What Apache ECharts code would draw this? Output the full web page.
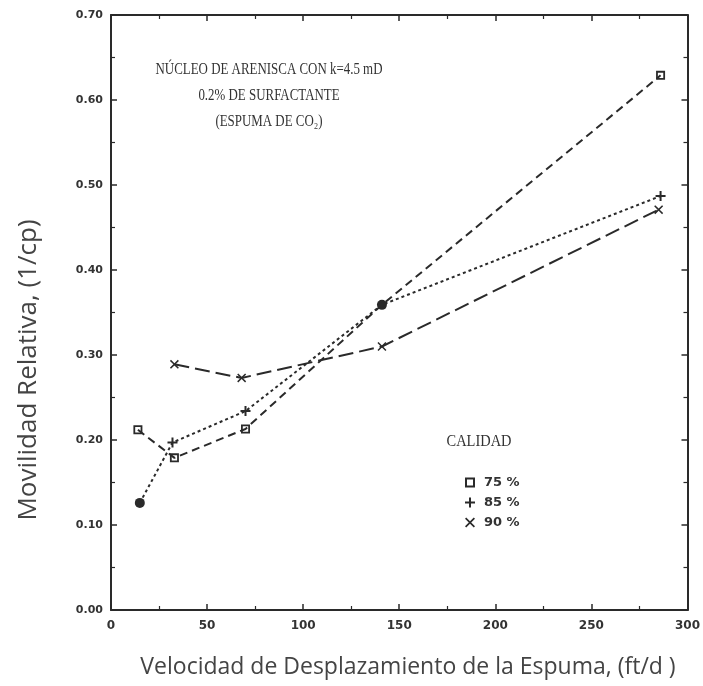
<!DOCTYPE html>
<html>
<head>
<meta charset="utf-8">
<script src="https://cdn.jsdelivr.net/npm/echarts@6/dist/echarts.min.js"></script>
<style>
html,body{margin:0;padding:0;background:#fff;}
#chart{width:703px;height:686px;}
</style>
</head>
<body>
<div id="chart"></div>
<script>
// ---- Data ----
const seriesNames = ['75 %', '85 %', '90 %'];
const x75 = [14, 33, 70, 141, 286];
const y75 = [0.212, 0.179, 0.213, 0.359, 0.629];
const x85 = [15, 32, 70, 141, 286];
const y85 = [0.126, 0.197, 0.234, 0.359, 0.487];
const x90 = [33, 68, 141, 285];
const y90 = [0.289, 0.273, 0.310, 0.471];
const xTicks = [0, 50, 100, 150, 200, 250, 300];
const yTicks = [0.0, 0.1, 0.2, 0.3, 0.4, 0.5, 0.6, 0.7];
const annotationLines = ['NÚCLEO DE ARENISCA CON k=4.5 mD', '0.2% DE SURFACTANTE', '(ESPUMA DE CO\u2082)'];
const legendTitle = 'CALIDAD';
const xAxisTitle = 'Velocidad de Desplazamiento de la Espuma, (ft/d )';
const yAxisTitle = 'Movilidad Relativa, (1/cp)';

// ---- Styles ----
const ink = '#2a2a2a';
const squarePath = 'path://M0,0H10V10H0Z M2,2V8H8V2Z';
const plusPath = 'path://M4,0H6V4H10V6H6V10H4V6H0V4H4Z';
const xPath = 'path://M1.2,0L5,3.8L8.8,0L10,1.2L6.2,5L10,8.8L8.8,10L5,6.2L1.2,10L0,8.8L3.8,5L0,1.2Z';
const pair = (xs, ys) => xs.map((v, i) => [v, ys[i]]);

const chart = echarts.init(document.getElementById('chart'), null, {renderer: 'canvas'});

const baseAxisLine = {show: true, onZero: false, lineStyle: {color: ink, width: 2}};
const tickIn = {show: true, inside: true, length: 6, lineStyle: {color: ink, width: 1.5}};
const minorIn = {show: true, splitNumber: 2, length: 4, lineStyle: {color: ink, width: 1.2}};

const xAxisBase = {
  type: 'value', min: xTicks[0], max: xTicks[xTicks.length - 1], interval: xTicks[1] - xTicks[0],
  axisLine: baseAxisLine, axisTick: tickIn, minorTick: minorIn, splitLine: {show: false}
};
const yAxisBase = {
  type: 'value', min: yTicks[0], max: yTicks[yTicks.length - 1], interval: 0.1,
  axisLine: baseAxisLine, axisTick: tickIn, minorTick: minorIn, splitLine: {show: false}
};

const option = {
  backgroundColor: '#fff',
  animation: false,
  grid: {left: 111, right: 13, top: 15, bottom: 76, containLabel: false},
  xAxis: [
    Object.assign({}, xAxisBase, {
      position: 'bottom',
      axisLabel: {show: true, margin: 10, fontFamily: 'DejaVu Sans', fontSize: 12, color: '#333', fontWeight: 'bold'}
    }),
    Object.assign({}, xAxisBase, {position: 'top', axisLabel: {show: false}})
  ],
  yAxis: [
    Object.assign({}, yAxisBase, {
      position: 'left',
      axisLabel: {show: true, margin: 8, fontFamily: 'DejaVu Sans', fontSize: 11, color: '#333', fontWeight: 'bold',
        formatter: v => v.toFixed(2)}
    }),
    Object.assign({}, yAxisBase, {position: 'right', axisLabel: {show: false}})
  ],
  legend: {
    orient: 'vertical', left: 460, top: 471, itemWidth: 10, itemHeight: 10, itemGap: 7,
    selectedMode: false,
    textStyle: {fontFamily: 'DejaVu Sans', fontSize: 13, fontWeight: 'bold', color: '#333', padding: [0, 0, 0, 4]},
    data: [
      {name: seriesNames[0], icon: squarePath, itemStyle: {color: ink}},
      {name: seriesNames[1], icon: plusPath, itemStyle: {color: ink}},
      {name: seriesNames[2], icon: xPath, itemStyle: {color: ink}}
    ]
  },
  graphic: [
    ...annotationLines.map((t, i) => ({
      type: 'text', x: 269, y: 70 + i * 26, scaleX: 0.76,
      style: {text: t, fill: '#333', font: '17px "Liberation Serif"', textAlign: 'center', textVerticalAlign: 'middle'}
    })),
    {type: 'text', x: 479, y: 442, scaleX: 0.85,
     style: {text: legendTitle, fill: '#333', font: '17px "Liberation Serif"', textAlign: 'center', textVerticalAlign: 'middle'}},
    {type: 'text', x: 408, y: 667,
     style: {text: xAxisTitle, fill: '#444', font: '23px "Open Sans"', textAlign: 'center', textVerticalAlign: 'middle'}},
    {type: 'text', x: 29, y: 370, rotation: Math.PI / 2,
     style: {text: yAxisTitle, fill: '#444', font: '26px "Open Sans"', textAlign: 'center', textVerticalAlign: 'middle'}}
  ],
  series: [
    {name: seriesNames[0], type: 'line', data: pair(x75, y75).map((p, i) => i === 3 ? {value: p, symbol: 'none'} : {value: p}),
     symbol: squarePath, symbolSize: 9,
     lineStyle: {color: ink, width: 2, type: [8, 5]},
     itemStyle: {color: ink}},
    {name: seriesNames[1], type: 'line', data: pair(x85, y85).map((p, i) => (i === 0 || i === 3)
        ? {value: p, symbol: 'circle', symbolSize: 10} : {value: p}),
     symbol: plusPath, symbolSize: 10, z: 3,
     lineStyle: {color: ink, width: 2, type: [3, 3]},
     itemStyle: {color: ink}},
    {name: seriesNames[2], type: 'line', data: pair(x90, y90), symbol: xPath, symbolSize: 9,
     lineStyle: {color: ink, width: 2, type: [15, 6]},
     itemStyle: {color: ink}}
  ]
};
chart.setOption(option);
</script>
</body>
</html>
